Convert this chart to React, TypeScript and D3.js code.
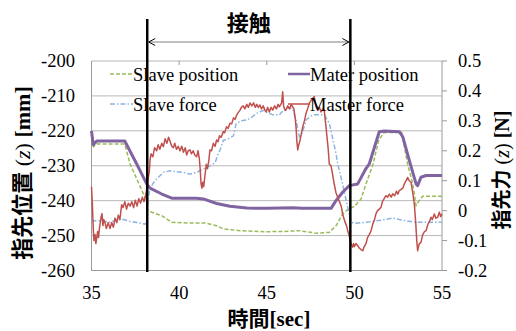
import React from "react";
import * as d3 from "d3";

// ---- data (time [sec], value) ----
const xTicks = [35, 40, 45, 50, 55];
const leftTicks = [-260, -250, -240, -230, -220, -210, -200];
const rightTicks = [-0.2, -0.1, 0, 0.1, 0.2, 0.3, 0.4, 0.5];
const contactTimes = [38.18, 49.77];
const contactLabel = "接触";

const legendNames = ["Slave position", "Slave force", "Mater position", "Master force"];

const slavePosition: [number, number][] = [
  [35.0, -220.5], [35.12, -224.5], [35.3, -223.8], [36.9, -223.8], [37.2, -229.5],
  [38.05, -239.0], [38.15, -240.0], [38.2, -242.9], [38.6, -243.6], [39.01, -244.3],
  [39.58, -246.2], [40.5, -246.4], [41.48, -246.4], [42.14, -247.2], [42.52, -248.1],
  [43.47, -248.6], [44.96, -248.9], [46.0, -248.8], [46.86, -248.6], [47.81, -249.3],
  [48.57, -249.1], [48.95, -247.2], [49.33, -243.8], [49.71, -242.2], [50.0, -241.7],
  [50.38, -239.5], [50.66, -235.2], [51.05, -229.8], [51.4, -222.5], [51.7, -220.5],
  [52.7, -220.5], [53.04, -229.5], [53.33, -235.2], [53.52, -241.4], [53.71, -239.9],
  [53.9, -238.7], [55.0, -238.7],
];

const masterPosition: [number, number][] = [
  [35.0, -220.0], [35.1, -224.0], [35.3, -222.9], [36.9, -222.9], [37.58, -229.5],
  [38.15, -235.2], [38.34, -236.4], [39.01, -238.1], [39.58, -239.3], [41.0, -239.3],
  [41.38, -239.5], [42.14, -240.8], [42.9, -241.6], [43.86, -242.1], [45.0, -242.2],
  [46.5, -242.0], [47.0, -242.2], [48.67, -242.2], [48.95, -240.0], [49.33, -237.6],
  [49.71, -235.7], [50.19, -235.2], [50.66, -230.8], [50.85, -229.5], [51.42, -220.25],
  [51.71, -220.05], [52.56, -220.25], [52.76, -221.7], [53.13, -228.4], [53.23, -230.1],
  [53.52, -235.2], [53.61, -235.7], [53.8, -233.3], [54.09, -232.8], [55.0, -232.8],
];

const slaveForce: [number, number][] = [
  [35.0, -0.034], [35.5, -0.034], [36.06, -0.039], [36.5, -0.03], [36.72, -0.028],
  [37.2, -0.036], [37.6, -0.04], [38.05, -0.045], [38.15, -0.04], [38.24, 0.045],
  [38.34, 0.072], [38.5, 0.09], [38.72, 0.106], [39.1, 0.128], [39.48, 0.133],
  [39.8, 0.13], [40.24, 0.128], [40.62, 0.122], [41.0, 0.128], [41.38, 0.139],
  [41.76, 0.15], [42.05, 0.16], [42.2, 0.185], [42.35, 0.205], [42.52, 0.235],
  [42.8, 0.24], [43.1, 0.25], [43.25, 0.29], [43.5, 0.3], [43.86, 0.303],
  [44.1, 0.31], [44.43, 0.325], [44.8, 0.335], [45.34, 0.32], [45.72, 0.32],
  [46.1, 0.345], [46.48, 0.34], [46.67, 0.303], [46.86, 0.247], [46.95, 0.25],
  [47.05, 0.264], [47.24, 0.303], [47.62, 0.32], [48.28, 0.32], [48.57, 0.292],
  [48.76, 0.242], [48.95, 0.192], [49.05, 0.156], [49.33, 0.089], [49.62, 0.011],
  [49.81, -0.039], [50.09, -0.042], [50.66, -0.039], [51.62, -0.031], [52.19, -0.025],
  [52.95, -0.034], [53.52, -0.039], [54.09, -0.039], [55.0, -0.039],
];

const masterForce: [number, number][] = [
  [35.0, 0.08], [35.05, 0.02], [35.1, -0.06], [35.14, -0.1], [35.2, -0.08],
  [35.25, -0.11], [35.3, -0.09], [35.35, -0.07], [35.4, -0.09], [35.45, -0.06],
  [35.5, -0.04], [35.55, -0.02], [35.6, -0.01], [35.65, -0.05], [35.7, -0.03],
  [35.77, -0.04], [35.85, -0.06], [35.95, -0.04], [36.06, -0.06], [36.15, -0.04],
  [36.25, -0.055], [36.34, -0.025], [36.45, -0.04], [36.53, -0.015], [36.62, -0.03],
  [36.72, 0.02], [36.8, 0.01], [36.9, 0.03], [37.0, 0.005], [37.1, 0.025],
  [37.2, 0.015], [37.3, 0.03], [37.4, 0.01], [37.5, 0.035], [37.6, 0.015],
  [37.7, 0.04], [37.8, 0.025], [37.9, 0.045], [38.0, 0.03], [38.08, 0.05],
  [38.15, 0.07], [38.2, 0.085], [38.24, 0.11], [38.3, 0.13], [38.34, 0.17],
  [38.4, 0.19], [38.5, 0.18], [38.6, 0.21], [38.72, 0.2], [38.8, 0.22],
  [38.9, 0.205], [39.01, 0.225], [39.1, 0.214], [39.2, 0.24], [39.3, 0.225],
  [39.4, 0.245], [39.48, 0.232], [39.58, 0.215], [39.67, 0.21], [39.75, 0.225],
  [39.85, 0.205], [39.95, 0.215], [40.05, 0.2], [40.15, 0.215], [40.25, 0.195],
  [40.35, 0.21], [40.43, 0.186], [40.52, 0.2], [40.62, 0.203], [40.7, 0.19],
  [40.8, 0.2], [40.9, 0.185], [41.0, 0.18], [41.08, 0.2], [41.15, 0.175],
  [41.2, 0.14], [41.25, 0.09], [41.3, 0.075], [41.35, 0.095], [41.4, 0.08],
  [41.48, 0.12], [41.55, 0.155], [41.62, 0.14], [41.7, 0.17], [41.76, 0.203],
  [41.85, 0.2], [41.95, 0.225], [42.05, 0.215], [42.14, 0.236], [42.22, 0.23],
  [42.3, 0.25], [42.4, 0.245], [42.52, 0.264], [42.6, 0.26], [42.7, 0.28],
  [42.8, 0.275], [42.9, 0.292], [43.0, 0.29], [43.1, 0.31], [43.2, 0.305],
  [43.29, 0.32], [43.4, 0.33], [43.47, 0.335], [43.55, 0.345], [43.66, 0.35],
  [43.75, 0.34], [43.86, 0.355], [43.95, 0.345], [44.04, 0.36], [44.15, 0.35],
  [44.25, 0.36], [44.35, 0.345], [44.43, 0.355], [44.52, 0.345], [44.61, 0.353],
  [44.7, 0.34], [44.8, 0.35], [44.9, 0.335], [44.96, 0.33], [45.05, 0.345],
  [45.15, 0.33], [45.25, 0.345], [45.34, 0.336], [45.45, 0.35], [45.55, 0.34],
  [45.65, 0.355], [45.72, 0.347], [45.85, 0.36], [45.91, 0.397], [45.96, 0.35],
  [46.05, 0.335], [46.1, 0.336], [46.2, 0.35], [46.3, 0.34], [46.4, 0.355],
  [46.48, 0.347], [46.55, 0.34], [46.62, 0.31], [46.67, 0.28], [46.72, 0.23],
  [46.77, 0.203], [46.82, 0.22], [46.86, 0.225], [46.95, 0.25], [47.05, 0.28],
  [47.15, 0.3], [47.24, 0.325], [47.33, 0.34], [47.43, 0.359], [47.55, 0.37],
  [47.62, 0.375], [47.71, 0.381], [47.8, 0.35], [47.91, 0.336], [48.0, 0.345],
  [48.1, 0.33], [48.2, 0.34], [48.28, 0.336], [48.38, 0.28], [48.5, 0.21],
  [48.57, 0.156], [48.67, 0.149], [48.76, 0.12], [48.85, 0.089], [48.95, 0.06],
  [49.05, 0.045], [49.15, 0.03], [49.25, 0.015], [49.33, -0.011], [49.45, -0.035],
  [49.55, -0.05], [49.62, -0.067], [49.71, -0.085], [49.81, -0.111], [49.9, -0.122],
  [49.95, -0.11], [50.0, -0.12], [50.09, -0.11], [50.19, -0.117], [50.28, -0.125],
  [50.38, -0.13], [50.48, -0.134], [50.56, -0.12], [50.66, -0.111], [50.75, -0.09],
  [50.85, -0.08], [50.95, -0.067], [51.05, -0.045], [51.15, -0.03], [51.23, -0.011],
  [51.32, 0.0], [51.42, 0.005], [51.52, 0.011], [51.6, 0.03], [51.7, 0.04],
  [51.8, 0.05], [51.9, 0.045], [52.0, 0.055], [52.1, 0.045], [52.19, 0.056],
  [52.3, 0.05], [52.4, 0.065], [52.48, 0.055], [52.56, 0.067], [52.65, 0.07],
  [52.76, 0.075], [52.85, 0.089], [52.95, 0.1], [53.04, 0.111], [53.13, 0.1],
  [53.23, 0.095], [53.33, 0.06], [53.42, 0.022], [53.5, -0.04], [53.56, -0.1],
  [53.61, -0.134], [53.66, -0.12], [53.71, -0.11], [53.8, -0.106], [53.9, -0.08],
  [54.0, -0.07], [54.09, -0.067], [54.2, -0.045], [54.3, -0.035], [54.37, -0.022],
  [54.45, -0.03], [54.56, -0.011], [54.65, -0.025], [54.75, -0.022], [54.85, -0.005],
  [54.92, -0.02], [55.0, -0.011],
];

const SERIF = "Liberation Serif, DejaVu Serif, serif";
const CJK = "Noto Sans CJK JP, sans-serif";

export default function App() {
  const W = 516, H = 331;
  const L = 91.5, R = 442, T = 61, B = 270.5;
  const x = d3.scaleLinear().domain([35, 55]).range([L, R]);
  const yL = d3.scaleLinear().domain([-260, -200]).range([B, T]);
  const yR = d3.scaleLinear().domain([-0.2, 0.5]).range([B, T]);

  const lineL = d3.line<[number, number]>().x(d => x(d[0])).y(d => yL(d[1]));
  const lineR = d3.line<[number, number]>().x(d => x(d[0])).y(d => yR(d[1]));

  const grid = "#b8b8b8";
  const green = "#9bbb59", blue = "#8db4e2", purple = "#8064a2", red = "#c0504d";
  const fs = 18.5;
  const serifStyle = { fontFamily: SERIF };
  const cjkStyle = { fontFamily: CJK };

  return (
    <svg width={W} height={H} style={{ position: "absolute", left: 0, top: 0, background: "#fff" }}>
      <rect x={0} y={0} width={W} height={H} fill="#fff" />
      {leftTicks.map(v => (
        <line key={"g" + v} x1={L} x2={R} y1={yL(v)} y2={yL(v)} stroke={grid} strokeWidth={1} />
      ))}
      <line x1={L} x2={L} y1={T} y2={B} stroke="#9a9a9a" strokeWidth={1} />
      <line x1={R} x2={R} y1={T} y2={B} stroke="#9a9a9a" strokeWidth={1} />
      <line x1={L} x2={R} y1={B} y2={B} stroke="#9a9a9a" strokeWidth={1} />
      {xTicks.slice(1, -1).map(v => (
        <line key={"tt" + v} x1={x(v)} x2={x(v)} y1={T} y2={T + 4} stroke="#9a9a9a" strokeWidth={1} />
      ))}
      {rightTicks.map(v => (
        <line key={"rt" + v} x1={R} x2={R + 5} y1={yR(v)} y2={yR(v)} stroke="#9a9a9a" strokeWidth={1} />
      ))}

      <path d={lineL(slavePosition) || ""} fill="none" stroke={green} strokeWidth={1.5} strokeDasharray="4,2" />
      <path d={lineR(slaveForce) || ""} fill="none" stroke={blue} strokeWidth={1.5} strokeDasharray="5,2,1.5,2" />
      <path d={lineL(masterPosition) || ""} fill="none" stroke={purple} strokeWidth={3} strokeLinejoin="round" />
      <path d={lineR(masterForce) || ""} fill="none" stroke={red} strokeWidth={1.5} strokeLinejoin="round" />

      <g style={serifStyle} fontSize={fs} fill="#000">
        <line x1={110} x2={133} y1={74} y2={74} stroke={green} strokeWidth={1.5} strokeDasharray="4,2" />
        <text x={133} y={81}>{legendNames[0]}</text>
        <line x1={110} x2={133} y1={104} y2={104} stroke={blue} strokeWidth={1.5} strokeDasharray="5,2,1.5,2" />
        <text x={133} y={111}>{legendNames[1]}</text>
        <line x1={288} x2={310} y1={74} y2={74} stroke={purple} strokeWidth={2.5} />
        <text x={310} y={81}>{legendNames[2]}</text>
        <line x1={288} x2={310} y1={104} y2={104} stroke={red} strokeWidth={1.5} />
        <text x={310} y={111}>{legendNames[3]}</text>
      </g>

      <g style={serifStyle} fontSize={fs} fill="#000">
        {leftTicks.map(v => (
          <text key={"lt" + v} x={75} y={yL(v)} dy="0.33em" textAnchor="end">{v}</text>
        ))}
        {rightTicks.map(v => (
          <text key={"rl" + v} x={458} y={yR(v)} dy="0.33em" textAnchor="start">{String(v)}</text>
        ))}
        {xTicks.map(v => (
          <text key={"xl" + v} x={x(v)} y={299} textAnchor="middle">{v}</text>
        ))}
      </g>

      {contactTimes.map(t => (
        <line key={"c" + t} x1={x(t)} x2={x(t)} y1={19} y2={272} stroke="#000" strokeWidth={2.5} />
      ))}
      <line x1={x(contactTimes[0]) + 1.5} x2={x(contactTimes[1]) - 1.5} y1={42} y2={42} stroke="#808080" strokeWidth={1} />
      <path d={`M${x(contactTimes[0]) + 8},38.5 L${x(contactTimes[0]) + 1.5},42 L${x(contactTimes[0]) + 8},45.5`} fill="none" stroke="#000" strokeWidth={1} />
      <path d={`M${x(contactTimes[1]) - 8},38.5 L${x(contactTimes[1]) - 1.5},42 L${x(contactTimes[1]) - 8},45.5`} fill="none" stroke="#000" strokeWidth={1} />
      <text x={(x(contactTimes[0]) + x(contactTimes[1])) / 2} y={31} textAnchor="middle" style={cjkStyle} fontWeight="bold" fontSize={22}>{contactLabel}</text>

      <text x={269} y={326} textAnchor="middle" fontWeight="bold" fontSize={21}>
        <tspan style={cjkStyle}>時間</tspan>
        <tspan style={serifStyle}>[sec]</tspan>
      </text>
      <text transform="translate(22,173) rotate(-90)" textAnchor="middle" dy="0.36em" fontWeight="bold" fontSize={22}>
        <tspan style={cjkStyle}>指先位置</tspan>
        <tspan style={serifStyle} fontWeight="normal"> (</tspan>
        <tspan style={serifStyle} fontStyle="italic" fontWeight="normal">z</tspan>
        <tspan style={serifStyle} fontWeight="normal">) </tspan>
        <tspan style={serifStyle}>[mm]</tspan>
      </text>
      <text transform="translate(502,170) rotate(-90)" textAnchor="middle" dy="0.36em" fontWeight="bold" fontSize={20}>
        <tspan style={cjkStyle}>指先力</tspan>
        <tspan style={serifStyle} fontWeight="normal"> (</tspan>
        <tspan style={serifStyle} fontStyle="italic" fontWeight="normal">z</tspan>
        <tspan style={serifStyle} fontWeight="normal">) </tspan>
        <tspan style={serifStyle}>[N]</tspan>
      </text>
    </svg>
  );
}
